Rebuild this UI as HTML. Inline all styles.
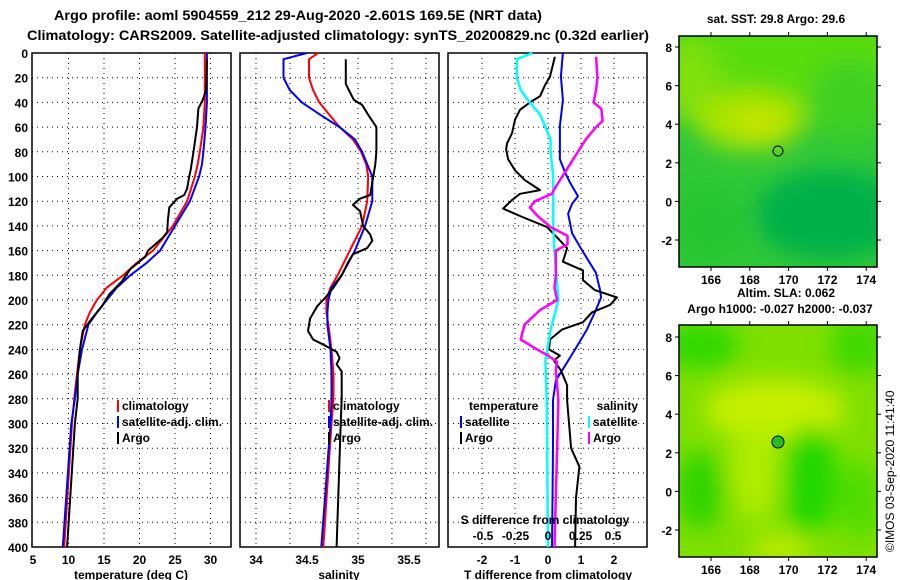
<!DOCTYPE html>
<html><head><meta charset="utf-8"><style>
body{margin:0;background:#fff;}
svg{display:block;font-family:"Liberation Sans",sans-serif;font-weight:bold;}
</style></head><body>
<svg id="chart" width="900" height="580" viewBox="0 0 900 580" xmlns="http://www.w3.org/2000/svg">
<defs>
<filter id="blur1" x="-50%" y="-50%" width="200%" height="200%"><feGaussianBlur stdDeviation="12"/></filter>
<clipPath id="clipA"><rect x="679" y="36" width="198" height="231"/></clipPath>
<clipPath id="clipB"><rect x="679" y="325" width="198" height="232"/></clipPath>
</defs>
<text x="54" y="20" font-size="14" textLength="488" lengthAdjust="spacingAndGlyphs">Argo profile: aoml 5904559_212 29-Aug-2020 -2.601S 169.5E (NRT data)</text>
<text x="27" y="40" font-size="14" textLength="622" lengthAdjust="spacingAndGlyphs">Climatology: CARS2009. Satellite-adjusted climatology: synTS_20200829.nc (0.32d earlier)</text>

<g>
<text x="776" y="23" font-size="12" text-anchor="middle">sat. SST: 29.8 Argo: 29.6</text>
<g clip-path="url(#clipA)">
<rect x="679" y="36" width="198" height="231" fill="#30c838"/>
<g filter="url(#blur1)">
<rect x="660" y="20" width="240" height="100" fill="#58dc10"/>
<ellipse cx="690" cy="80" rx="30" ry="40" fill="#80e010"/>
<ellipse cx="750" cy="120" rx="55" ry="30" fill="#a8e400"/>
<ellipse cx="760" cy="125" rx="25" ry="15" fill="#c8e400"/>
<ellipse cx="850" cy="100" rx="40" ry="40" fill="#40d020"/>
<ellipse cx="830" cy="215" rx="75" ry="45" fill="#00b048"/>
<ellipse cx="710" cy="225" rx="40" ry="40" fill="#28c430"/>
</g>
<circle cx="778" cy="151" r="5" fill="none" stroke="#000" stroke-width="1"/>
</g>
<rect x="679" y="36" width="198" height="231" fill="none" stroke="#000" stroke-width="1.5"/>
<g id="mapAaxis" font-size="12"></g>
<text x="737" y="297" font-size="12">Altim. SLA: 0.062</text>
<text x="780" y="313" font-size="12" text-anchor="middle">Argo h1000: -0.027 h2000: -0.037</text>
</g>

<g>
<g clip-path="url(#clipB)">
<rect x="679" y="325" width="198" height="232" fill="#80e000"/>
<g filter="url(#blur1)">
<ellipse cx="700" cy="345" rx="40" ry="25" fill="#30d800"/>
<ellipse cx="860" cy="345" rx="30" ry="30" fill="#40d800"/>
<ellipse cx="775" cy="410" rx="70" ry="30" fill="#c8f000"/>
<ellipse cx="755" cy="470" rx="25" ry="50" fill="#b0ec00"/>
<ellipse cx="700" cy="490" rx="25" ry="40" fill="#30d400"/>
<ellipse cx="810" cy="480" rx="28" ry="55" fill="#20d800"/>
<ellipse cx="860" cy="500" rx="22" ry="40" fill="#50dc00"/>
<ellipse cx="780" cy="550" rx="30" ry="15" fill="#c0ec00"/>
</g>
<circle cx="778" cy="442" r="6" fill="#20c020" stroke="#000" stroke-width="1"/>
</g>
<rect x="679" y="325" width="198" height="232" fill="none" stroke="#000" stroke-width="1.5"/>
<g id="mapBaxis" font-size="12"></g>
</g>
<text font-size="12" font-weight="normal" transform="translate(894,552) rotate(-90)">©IMOS 03-Sep-2020 11:41:40</text>

<g id="panels"></g>
</svg>
<script>
// ---- data ----
const tempDepthClim = [0,40,60,80,90,100,120,140,160,170,180,190,200,210,220,240,260,280,300,400];
const tempClim      = [29.2,29.2,29.0,28.5,28.2,27.8,26.7,24.7,21.9,19.6,17.7,15.4,14.0,13.0,12.3,11.6,11.2,10.8,10.5,9.4];
const tempSat       = [29.5,29.5,29.3,29.0,28.8,28.4,27.1,25.0,22.9,21.0,18.7,16.8,15.4,14.0,12.8,11.9,11.3,10.9,10.4,9.2];
const tempArgoDepth = [5,30,38,45,60,80,95,100,110,115,118,125,135,145,150,160,165,175,185,195,205,215,225,240,260,280,300,400];
const tempArgo      = [29.5,29.4,28.9,28.3,28.1,27.6,27.2,27.0,26.7,26.3,25.3,24.2,24.0,23.9,23.2,21.2,20.8,18.7,17.5,15.8,14.7,13.3,12.0,11.6,11.3,11.3,10.9,9.8];

const salDepthClim = [0,5,20,30,40,50,60,70,80,90,100,120,140,160,180,190,200,210,220,240,260,280,300,400];
const salClim      = [34.61,34.52,34.52,34.56,34.62,34.72,34.82,34.95,35.03,35.08,35.10,35.09,35.04,34.92,34.80,34.73,34.69,34.69,34.71,34.74,34.76,34.76,34.74,34.66];
const salSat       = [34.50,34.27,34.27,34.33,34.45,34.63,34.82,34.97,35.04,35.09,35.14,35.14,35.07,34.97,34.84,34.74,34.71,34.70,34.70,34.73,34.74,34.74,34.73,34.64];
const salArgoDepth = [5,25,30,38,42,50,60,70,80,90,100,115,118,123,128,140,147,152,158,163,170,180,190,198,205,215,225,232,237,242,247,252,258,265,280,300,400];
const salArgo      = [34.88,34.88,34.91,34.96,35.04,35.10,35.18,35.18,35.18,35.17,35.15,35.12,35.02,34.95,35.02,35.05,35.12,35.14,35.09,34.95,34.90,34.84,34.76,34.68,34.60,34.53,34.51,34.56,34.68,34.79,34.82,34.79,34.84,34.84,34.84,34.83,34.79];

const dTSatDepth = [0,19,38,59,86,97,105,116,122,130,146,157,178,192,198,208,224,240,253,265,281,320,400];
const dTSat      = [0.45,0.39,0.45,0.36,0.36,0.52,0.67,0.91,0.73,0.61,0.73,0.97,1.45,1.58,1.61,1.45,1.18,0.82,0.52,0.24,0.15,0.15,0.12];
const dTArgoDepth = [3,19,26,35,40,46,54,65,73,78,86,95,103,111,114,119,126,132,141,150,158,169,176,184,192,198,204,210,218,224,232,240,245,249,257,269,281,320,335,360,400];
const dTArgo      = [0.21,0.06,-0.09,-0.24,-0.55,-0.85,-1.0,-1.09,-1.24,-1.27,-1.21,-1.0,-0.7,-0.24,-0.85,-1.09,-1.36,-0.85,-0.03,0.3,0.58,0.45,1.06,1.06,1.42,2.09,1.88,1.33,1.06,0.42,0.06,0.03,0.36,0.18,0.39,0.58,0.58,0.7,0.95,0.85,0.82];
const dSSatDepth = [0,5,20,30,40,50,60,70,80,100,120,140,160,200,224,249,281,400];
const dSSat      = [-0.12,-0.24,-0.24,-0.21,-0.14,-0.06,-0.02,0.02,0.02,0.04,0.04,0.04,0.05,0.08,0.02,-0.02,-0.01,0.0];
const dSArgoDepth = [3,20,30,40,45,55,60,70,80,90,100,110,114,120,125,132,141,148,155,160,170,180,190,200,208,220,232,239,245,250,257,281,400];
const dSArgo      = [0.37,0.38,0.37,0.35,0.41,0.42,0.37,0.29,0.23,0.17,0.11,0.05,0.03,-0.10,-0.14,-0.08,0.02,0.15,0.15,0.06,0.06,0.06,0.05,0.07,-0.06,-0.18,-0.21,-0.10,0.0,0.07,0.06,0.08,0.05];

const depthTicks = [0,20,40,60,80,100,120,140,160,180,200,220,240,260,280,300,320,340,360,380,400];
const tempTicks = [5,10,15,20,25,30];
const salTicks = [34,34.5,35,35.5];
const salGrid = [34,34.333,34.667,35,35.333,35.667];
const dTTicks = [-2,-1,0,1,2];
const dSTickLabels = ["-0.5","-0.25","0","0.25","0.5"];
const dSTicks = [-0.5,-0.25,0,0.25,0.5];
const lonTicks = [166,168,170,172,174];
const latTicks = [-2,0,2,4,6,8];

// ---- axes ----
const NS='http://www.w3.org/2000/svg';
const Y0=53, Y1=547;
const yD = d => Y0 + (Y1-Y0)*d/400;
const xT = t => 33 + 7.1*(t-5);
const xS = s => 256 + 102*(s-34);
const xDT = v => 548 + 33*v;
const xDS = v => 548 + 130*v;
const root=document.getElementById('panels');
function el(tag, attrs, parent){const e=document.createElementNS(NS,tag);for(const k in attrs)e.setAttribute(k,attrs[k]);(parent||root).appendChild(e);return e;}
function txt(s,x,y,anchor,size,parent){const t=el('text',{x:x,y:y,'text-anchor':anchor||'start','font-size':size||12},parent);t.textContent=s;return t;}

function panel(name,x0,x1,gridXs){
  const g=el('g',{});
  
  
  depthTicks.forEach(d=>{ if(d>0&&d<400){el('line',{x1:x0,x2:x1,y1:yD(d),y2:yD(d),stroke:'#000','stroke-width':1,'stroke-dasharray':'1,4'},g);} });
  gridXs.forEach(x=>{el('line',{x1:x,x2:x,y1:Y0,y2:Y1,stroke:'#000','stroke-width':1,'stroke-dasharray':'1,4'},g);});
  el('rect',{x:x0,y:Y0,width:x1-x0,height:Y1-Y0,fill:'none',stroke:'#000','stroke-width':1.5},g);
  return g;
}
function line(g,name,xs,ds,fx,color,w){
  const pts=xs.map((v,i)=>fx(v).toFixed(1)+','+yD(ds[i]).toFixed(1)).join(' ');
  const p=el('polyline',{points:pts,fill:'none',stroke:color,'stroke-width':w||2,'stroke-linejoin':'round'},g);
  
  
}
function legendItem(g,x,y,color,label){
  el('rect',{x:x,y:y-10,width:2,height:12,fill:color},g);
  const t=txt(label,x+5,y,'start',12,g);
  
  
}

const dl=el('g',{});


depthTicks.forEach(d=>txt(String(d),28,yD(d)+5,'end',12,dl));

const p1=panel('temperature-panel',32,231,tempTicks.slice(1).map(xT));
line(p1,'temp-climatology',tempClim,tempDepthClim,xT,'#f00',2);
line(p1,'temp-satellite',tempSat,tempDepthClim,xT,'#00f',2);
line(p1,'temp-argo',tempArgo,tempArgoDepth,xT,'#000',2);
tempTicks.forEach(t=>txt(String(t),xT(t),564,'middle',12,p1));
txt('temperature (deg C)',131,579,'middle',12,p1);
legendItem(p1,117,410,'#f00','climatology');
legendItem(p1,117,426,'#00f','satellite-adj. clim.');
legendItem(p1,117,442,'#000','Argo');

const p2=panel('salinity-panel',240,439,salGrid.map(xS).filter(x=>x>241&&x<438));
line(p2,'sal-climatology',salClim,salDepthClim,xS,'#f00',2);
line(p2,'sal-satellite',salSat,salDepthClim,xS,'#00f',2);
line(p2,'sal-argo',salArgo,salArgoDepth,xS,'#000',2);
salTicks.forEach(s=>txt(String(s),xS(s),564,'middle',12,p2));
txt('salinity',339,579,'middle',12,p2);
legendItem(p2,328,410,'#f00','climatology');
legendItem(p2,328,426,'#00f','satellite-adj. clim.');
legendItem(p2,328,442,'#000','Argo');

const p3=panel('difference-panel',448,647,dTTicks.map(xDT));
line(p3,'dT-satellite',dTSat,dTSatDepth,xDT,'#00f',2);
line(p3,'dT-argo',dTArgo,dTArgoDepth,xDT,'#000',2);
line(p3,'dS-satellite',dSSat,dSSatDepth,xDS,'#0ff',2.5);
line(p3,'dS-argo',dSArgo,dSArgoDepth,xDS,'#f0f',2.5);
dTTicks.forEach(v=>txt(String(v),xDT(v),564,'middle',12,p3));
txt('T difference from climatology',548,579,'middle',12,p3);
txt('S difference from climatology',545,524,'middle',12,p3);
dSTicks.forEach((v,i)=>txt(dSTickLabels[i],xDS(v),540,'middle',12,p3));
txt('temperature',469,410,'start',12,p3);
txt('salinity',638,410,'end',12,p3);
legendItem(p3,460,426,'#00f','satellite');
legendItem(p3,460,442,'#000','Argo');
legendItem(p3,588,426,'#0ff','satellite');
legendItem(p3,588,442,'#f0f','Argo');

function mapAxes(gid,top,bottom,lat8y,labY){
  const g=document.getElementById(gid);
  const xL=l=>711+19.4*(l-166);
  const yL=l=>lat8y+19.3*(8-l);
  lonTicks.forEach(l=>{el('line',{x1:xL(l),x2:xL(l),y1:top,y2:top-4,stroke:'#000'},g);el('line',{x1:xL(l),x2:xL(l),y1:bottom,y2:bottom+4,stroke:'#000'},g);txt(String(l),xL(l),labY,'middle',12,g);});
  latTicks.forEach(l=>{el('line',{x1:675,x2:679,y1:yL(l),y2:yL(l),stroke:'#000'},g);el('line',{x1:877,x2:881,y1:yL(l),y2:yL(l),stroke:'#000'},g);txt(String(l),672,yL(l)+5,'end',12,g);});
}
mapAxes('mapAaxis',36,267,47,284);
mapAxes('mapBaxis',325,557,337,574);
</script>
</body></html>
